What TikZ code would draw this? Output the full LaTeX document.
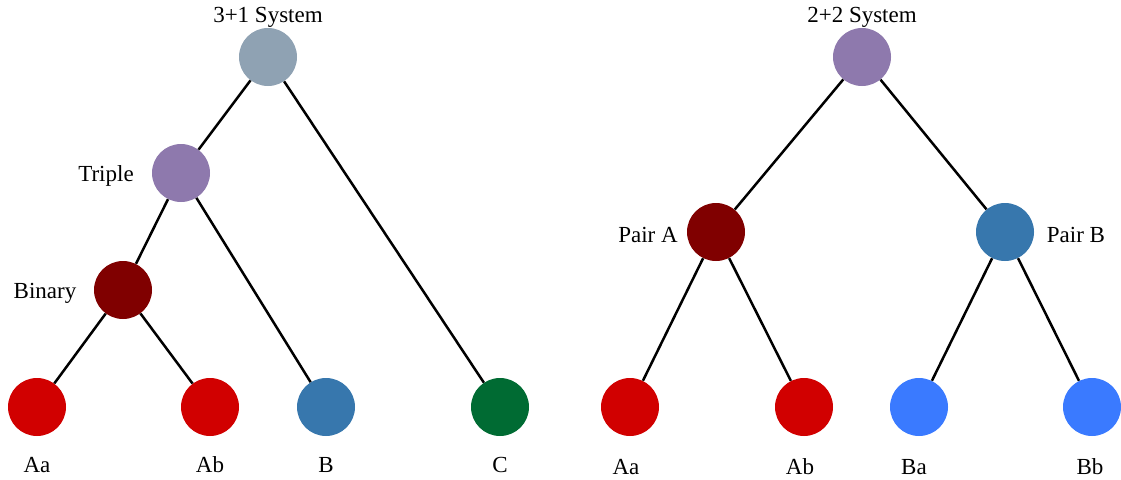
\documentclass[tikz,border=0pt]{standalone}
\usepackage{fontspec}
\setmainfont{Liberation Serif}
\definecolor{cgray}{HTML}{8FA2B3}
\definecolor{cpurple}{HTML}{8E79AD}
\definecolor{cdred}{HTML}{800000}
\definecolor{cred}{HTML}{D10000}
\definecolor{csteel}{HTML}{3777AD}
\definecolor{cgreen}{HTML}{006B33}
\definecolor{cblue}{HTML}{3A7AFF}
\begin{document}
\begin{tikzpicture}[x=1pt,y=-1pt,
  star/.style={circle,minimum size=58pt,inner sep=0pt,fill=#1},
  lbl/.style={font=\fontsize{23}{25}\selectfont,inner sep=0pt,anchor=base},
  edge/.style={line width=2.5pt,black}]
\useasboundingbox (0,0) rectangle (1121,479);
% left tree
\node[star=cgray] (s31) at (268,57) {};
\node[star=cpurple] (tri) at (181,173) {};
\node[star=cdred] (bin) at (123,290) {};
\node[star=cred] (laa) at (37,407) {};
\node[star=cred] (lab) at (210,407) {};
\node[star=csteel] (lb) at (326,407) {};
\node[star=cgreen] (lc) at (500,407) {};
\draw[edge] (s31) -- (tri);
\draw[edge] (s31) -- (lc);
\draw[edge] (tri) -- (bin);
\draw[edge] (tri) -- (lb);
\draw[edge] (bin) -- (laa);
\draw[edge] (bin) -- (lab);
\node[lbl] (t31) at (268,23) {3+1 System};
\node[lbl] (ttri) at (106,181) {Triple};
\node[lbl] (tbin) at (45,298) {Binary};
\node[lbl] (tlaa) at (37,472) {Aa};
\node[lbl] (tlab) at (210,472) {Ab};
\node[lbl] (tlb) at (326,472) {B};
\node[lbl] (tlc) at (500,472) {C};
% right tree
\node[star=cpurple] (s22) at (862,57) {};
\node[star=cdred] (pa) at (716,232) {};
\node[star=csteel] (pb) at (1005,232) {};
\node[star=cred] (raa) at (630,407) {};
\node[star=cred] (rab) at (804,407) {};
\node[star=cblue] (rba) at (919,407) {};
\node[star=cblue] (rbb) at (1092,407) {};
\draw[edge] (s22) -- (pa);
\draw[edge] (s22) -- (pb);
\draw[edge] (pa) -- (raa);
\draw[edge] (pa) -- (rab);
\draw[edge] (pb) -- (rba);
\draw[edge] (pb) -- (rbb);
\node[lbl] (t22) at (862,23) {2+2 System};
\node[lbl] (tpa) at (648,242) {Pair A};
\node[lbl] (tpb) at (1076,242) {Pair B};
\node[lbl] (traa) at (626,474) {Aa};
\node[lbl] (trab) at (800,474) {Ab};
\node[lbl] (trba) at (914,474) {Ba};
\node[lbl] (trbb) at (1090,474) {Bb};
\end{tikzpicture}
\end{document}
